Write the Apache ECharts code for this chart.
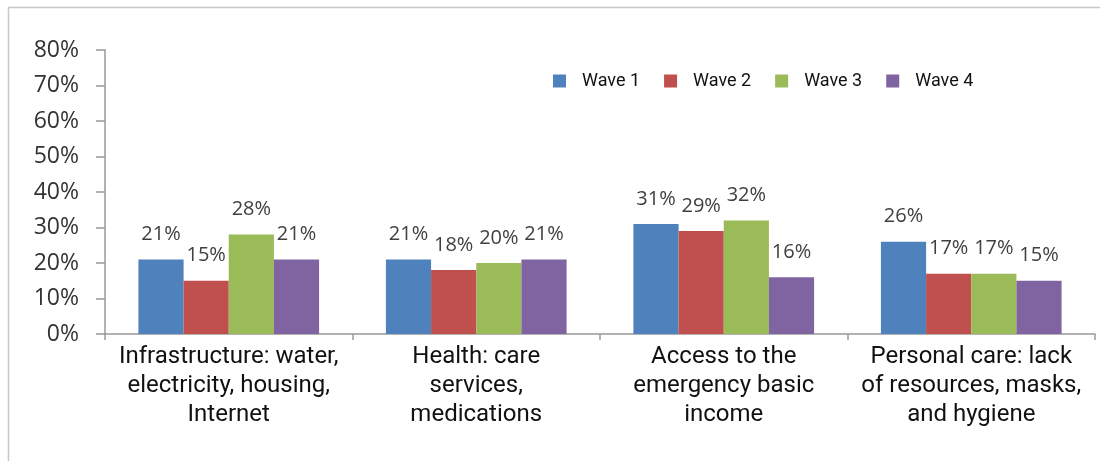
<!DOCTYPE html>
<html>
<head>
<meta charset="utf-8">
<script src="https://cdn.jsdelivr.net/npm/echarts@6/dist/echarts.min.js"></script>
<style>
  html, body { margin: 0; padding: 0; background: #fff; }
  #chart { width: 1100px; height: 461px; }
</style>
</head>
<body>
<div id="chart"></div>
<script>
// Reported issues by category, share of respondents per survey wave (%)
const categories = [
  'Infrastructure: water,\nelectricity, housing,\nInternet',
  'Health: care\nservices,\nmedications',
  'Access to the\nemergency basic\nincome',
  'Personal care: lack\nof resources, masks,\nand hygiene'
];
const waveNames = ['Wave 1', 'Wave 2', 'Wave 3', 'Wave 4'];
const wave1 = [21, 21, 31, 26];
const wave2 = [15, 18, 29, 17];
const wave3 = [28, 20, 32, 17];
const wave4 = [21, 21, 16, 15];
const yTicks = [0, 10, 20, 30, 40, 50, 60, 70, 80];

const colors = ['#4f81bd', '#c0504d', '#9bbb59', '#8064a2'];
const waveValues = [wave1, wave2, wave3, wave4];

const chart = echarts.init(document.getElementById('chart'));

const series = waveNames.map((name, i) => ({
  name: name,
  type: 'bar',
  data: waveValues[i],
  barGap: '0%',
  barCategoryGap: '27%',
  itemStyle: { color: colors[i] },
  label: {
    show: true,
    position: 'top',
    distance: 15,
    formatter: '{c}%',
    fontFamily: 'Open Sans',
    fontSize: 20,
    color: '#404040'
  }
}));

chart.setOption({
  animation: false,
  color: colors,
  graphic: [
    { type: 'line', shape: { x1: 8, y1: 7.5, x2: 1100, y2: 7.5 }, style: { stroke: '#c8c8c8', lineWidth: 1.5 } },
    { type: 'line', shape: { x1: 8.5, y1: 7, x2: 8.5, y2: 461 }, style: { stroke: '#c8c8c8', lineWidth: 1.5 } }
  ],
  legend: {
    data: waveNames,
    left: 553,
    top: 72,
    padding: 0,
    icon: 'rect',
    itemWidth: 13,
    itemHeight: 13,
    itemGap: 24,
    textStyle: {
      fontFamily: 'Roboto',
      fontSize: 18,
      color: '#111',
      padding: [0, 0, 0, 11]
    }
  },
  grid: {
    left: 105,
    right: 5,
    top: 50,
    bottom: 127,
    outerBoundsMode: 'none'
  },
  xAxis: {
    type: 'category',
    data: categories,
    axisLine: { lineStyle: { color: '#999', width: 1.5 } },
    axisTick: { show: true, length: 6, lineStyle: { color: '#999', width: 1.5 } },
    axisLabel: {
      interval: 0,
      margin: 8,
      fontFamily: 'Roboto',
      fontSize: 24,
      lineHeight: 29,
      color: '#111'
    }
  },
  yAxis: {
    type: 'value',
    min: yTicks[0],
    max: yTicks[yTicks.length - 1],
    interval: 10,
    splitLine: { show: false },
    axisLine: { show: true, lineStyle: { color: '#999', width: 1.5 } },
    axisTick: { show: true, length: 9, lineStyle: { color: '#999', width: 1.5 } },
    axisLabel: {
      margin: 26,
      formatter: '{value}%',
      fontFamily: 'Open Sans',
      fontSize: 23,
      color: '#333'
    }
  },
  series: series
});
</script>
</body>
</html>
